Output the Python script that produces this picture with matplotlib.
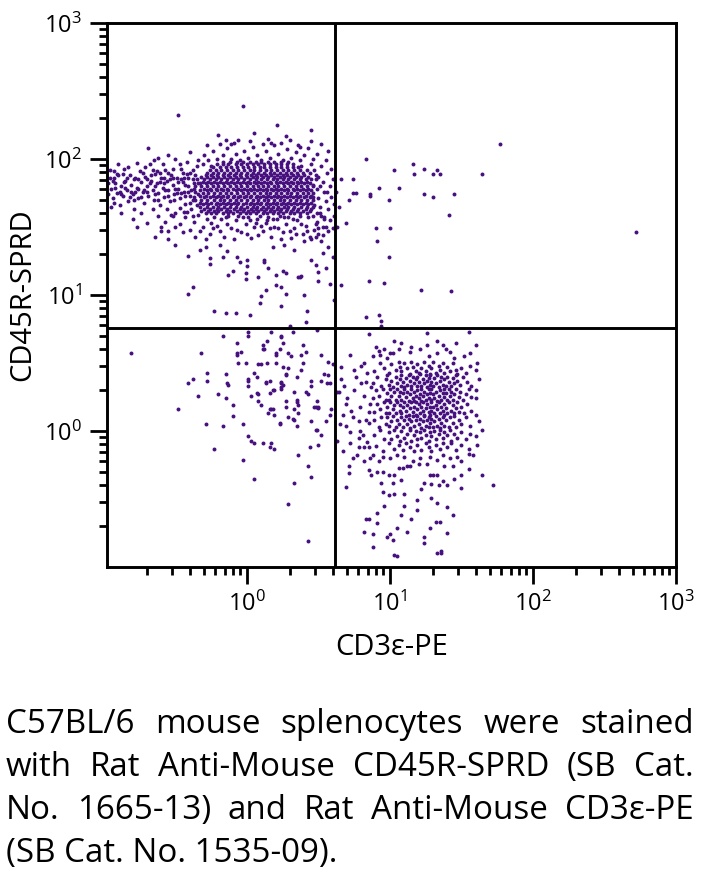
import numpy as np
import matplotlib
matplotlib.use("Agg")
import matplotlib.pyplot as plt
from matplotlib.ticker import FixedLocator, NullFormatter

# ---------------- data (log10 fluorescence, in hundredths of a decade) ----------------
X_LABEL = "CD3ε-PE"
Y_LABEL = "CD45R-SPRD"
TICK_VALUES = [1, 10, 100, 1000]
TICK_LABELS = [r"$\mathdefault{10^{0}}$", r"$\mathdefault{10^{1}}$",
               r"$\mathdefault{10^{2}}$", r"$\mathdefault{10^{3}}$"]
GATE_X = 4.12     # CD3e quadrant gate
GATE_Y = 5.72     # CD45R quadrant gate
CAPTION = [
    "C57BL/6 mouse splenocytes were stained",
    "with Rat Anti-Mouse CD45R-SPRD (SB Cat.",
    "No. 1665-13) and Rat Anti-Mouse CD3ε-PE",
    "(SB Cat. No. 1535-09).",
]

# B cells (CD45R+ CD3-) dense core, by row: y value and the x values on it
B_CORE_Y = [160, 162, 163, 165, 167, 168, 170, 172, 173, 175, 177, 178,
            180, 182, 183, 185, 187, 188, 190, 192, 194, 196, 198]
B_CORE_X = [
    [-29, -25, -22, -17, -13, -10, -5, -1, 2, 6, 11, 14, 18, 22, 25, 30, 33, 37, 42],
    [-32, -27, -23, -20, -15, -12, -7, -3, 1, 4, 8, 12, 16, 19, 23, 27, 31, 35, 39, 44],
    [-30, -26, -21, -18, -14, -9, -5, -2, 3, 6, 10, 13, 17, 21, 24, 28, 32, 36, 41, 45],
    [-33, -28, -24, -20, -16, -12, -8, -4, 0, 4, 7, 11, 15, 18, 22, 26, 29, 33, 38, 42, 46],
    [-31, -27, -22, -19, -15, -11, -7, -3, 2, 5, 9, 13, 16, 20, 24, 27, 31, 35, 39, 43],
    [-33, -29, -25, -21, -17, -13, -9, -6, -1, 3, 7, 10, 14, 18, 21, 25, 29, 33, 37, 41, 45],
    [-32, -28, -23, -19, -16, -12, -8, -4, 0, 4, 8, 12, 15, 19, 23, 26, 30, 34, 38, 42, 46],
    [-30, -26, -22, -18, -14, -10, -6, -2, 2, 6, 9, 13, 17, 21, 24, 28, 32, 36, 40, 44],
    [-33, -29, -24, -20, -17, -13, -9, -5, -1, 3, 7, 11, 15, 19, 22, 26, 30, 34, 37, 41, 45],
    [-31, -27, -23, -19, -15, -11, -7, -3, 1, 5, 9, 13, 16, 20, 24, 28, 31, 35, 39, 43, 46],
    [-33, -28, -25, -21, -17, -13, -8, -4, 0, 3, 7, 11, 14, 18, 22, 26, 29, 33, 37, 41, 45],
    [-30, -26, -22, -18, -14, -10, -6, -2, 2, 5, 9, 13, 17, 20, 24, 28, 32, 35, 39, 43],
    [-32, -28, -24, -20, -16, -12, -8, -4, 0, 4, 8, 11, 15, 19, 22, 26, 30, 34, 38, 42, 46],
    [-33, -29, -25, -21, -17, -13, -9, -5, -1, 2, 6, 10, 14, 17, 21, 25, 29, 32, 36, 40, 44],
    [-31, -27, -23, -19, -15, -11, -7, -3, 1, 5, 8, 12, 16, 20, 23, 27, 31, 35, 38, 42],
    [-30, -26, -22, -18, -14, -10, -6, -2, 2, 6, 10, 14, 18, 21, 25, 29, 33, 37, 41, 45],
    [-32, -28, -24, -20, -16, -12, -8, -4, 0, 4, 7, 11, 15, 19, 23, 26, 30, 34, 38, 43],
    [-29, -25, -21, -17, -13, -9, -5, -1, 3, 6, 10, 13, 17, 21, 25, 28, 32, 36, 40],
    [-28, -24, -20, -16, -12, -8, -4, 0, 4, 8, 12, 16, 19, 23, 27, 31, 35, 39, 44],
    [-26, -22, -18, -14, -10, -6, -2, 2, 5, 9, 13, 17, 21, 25, 29, 33, 37],
    [-24, -19, -15, -11, -7, -3, 1, 5, 9, 12, 16, 20, 24, 28, 32, 36],
    [-21, -17, -13, -8, -4, 0, 4, 8, 12, 16, 20, 24, 28, 32],
    [-17, -12, -7, -3, 2, 6, 10, 15, 19, 24, 29],
]

# B cells: surrounding events (x, y)
B_HALO = [
    (-96, 186), (-95, 178), (-94, 171), (-93, 191), (-92, 182), (-91, 175), (-90, 188), (-89, 166),
    (-88, 180), (-87, 173), (-86, 193), (-85, 184), (-84, 177), (-83, 169), (-82, 188), (-81, 181),
    (-80, 174), (-79, 163), (-78, 186), (-77, 179), (-76, 171), (-75, 191), (-74, 183), (-73, 176),
    (-72, 168), (-71, 187), (-70, 180), (-69, 173), (-68, 196), (-67, 184), (-66, 177), (-65, 170),
    (-64, 189), (-63, 182), (-62, 175), (-61, 166), (-60, 186), (-59, 179), (-58, 172), (-57, 192),
    (-56, 184), (-55, 177), (-54, 169), (-53, 188), (-52, 181), (-51, 174), (-50, 160), (-49, 186),
    (-48, 178), (-47, 171), (-46, 193), (-45, 183), (-44, 176), (-43, 167), (-42, 189), (-41, 180),
    (-40, 173), (-39, 163), (-38, 185), (-37, 178), (-36, 170), (-35, 195), (-34, 182), (-34, 174),
    (-92, 179), (-86, 183), (-81, 176), (-76, 185), (-72, 177), (-68, 182), (-64, 174), (-61, 183),
    (-57, 177), (-54, 185), (-51, 170), (-48, 183), (-46, 175), (-43, 181), (-41, 186), (-39, 177),
    (-37, 182), (-36, 188), (-35, 166), (-38, 192), (-45, 190), (-52, 193), (-58, 186), (-63, 191),
    (-70, 185), (-78, 176), (-84, 186), (-89, 176), (-97, 182), (-66, 163), (-56, 163), (-47, 164),
    (-40, 168), (-36, 176), (-44, 161), (-53, 159), (-62, 158), (-74, 160), (-88, 160), (-80, 156),
    (-70, 153), (-60, 150), (-95, 165), (-77, 197), (-65, 199), (-50, 200), (-42, 198), (-90, 196),
    (-97, 174), (-94, 184), (-91, 189), (-88, 174), (-85, 179), (-82, 172), (-79, 185), (-76, 178),
    (-73, 190), (-70, 176), (-67, 188), (-64, 180), (-61, 190), (-58, 182), (-55, 173), (-52, 186),
    (-49, 175), (-46, 185), (-43, 173), (-40, 190), (-37, 172), (-35, 185), (-96, 192), (-93, 168),
    (-87, 189), (-83, 194), (-79, 170), (-74, 172), (-71, 194), (-66, 192), (-62, 170), (-59, 196),
    (-55, 190), (-50, 178), (-47, 196), (-44, 186), (-41, 176), (-38, 170), (-36, 180), (-93, 186),
    # above the core
    (-34, 199), (-30, 203), (-27, 199), (-24, 206), (-21, 200), (-17, 203), (-14, 208), (-11, 200),
    (-8, 204), (-5, 199), (-2, 206), (1, 201), (4, 209), (7, 203), (10, 199), (13, 206), (16, 201),
    (19, 210), (22, 204), (25, 199), (28, 207), (31, 201), (34, 205), (37, 199), (40, 203), (43, 208),
    (46, 200), (49, 204), (-28, 210), (-19, 211), (-9, 212), (2, 213), (11, 211), (24, 212), (36, 210),
    (45, 213), (-31, 196), (-25, 195), (38, 195), (42, 192), (45, 196), (48, 188), (-6, 214), (15, 215),
    (30, 214), (-3, 239), (-48, 232), (21, 225), (27, 217), (45, 221), (17, 212), (-15, 214),
    (-11, 211), (-69, 208), (57, 206), (37, 209), (-40, 205), (-55, 203), (-62, 201), (-20, 218),
    (5, 219), (52, 211),
    # right edge of the core
    (47, 192), (48, 185), (49, 178), (50, 171), (51, 165), (52, 158), (47, 166), (49, 160), (53, 183),
    (54, 176), (55, 169), (56, 190), (57, 163), (58, 180), (59, 172), (60, 185), (61, 167), (62, 176),
    (48, 152), (53, 150), (58, 155), (46, 172), (46, 181), (50, 187), (52, 195), (55, 199), (59, 193),
    (61, 158), (57, 147), (50, 145), (54, 156), (60, 149), (56, 176), (51, 180),
    # below the core
    (-52, 158), (-47, 152), (-43, 157), (-40, 148), (-37, 154), (-34, 159), (-31, 150), (-28, 156),
    (-26, 145), (-23, 157), (-21, 151), (-18, 156), (-16, 143), (-13, 158), (-11, 149), (-8, 155),
    (-6, 158), (-4, 146), (-1, 152), (1, 157), (3, 142), (5, 150), (7, 156), (9, 158), (11, 147),
    (13, 153), (15, 157), (17, 143), (19, 150), (21, 156), (23, 158), (25, 146), (27, 152), (29, 157),
    (31, 142), (33, 149), (35, 155), (37, 158), (39, 145), (41, 151), (43, 157), (45, 141), (47, 148),
    (49, 154), (51, 160), (53, 144), (55, 150), (-45, 146), (-36, 143), (-29, 141), (-19, 147),
    (-9, 141), (0, 145), (8, 144), (16, 149), (24, 141), (32, 156), (40, 140), (48, 143), (-25, 153),
    (-14, 152), (-3, 157), (6, 153), (14, 155), (22, 149), (30, 147), (38, 152), (46, 158), (54, 157),
    (-50, 150), (-42, 161), (-33, 147), (-24, 149), (-15, 157), (-7, 148), (2, 155), (10, 151),
    (18, 156), (26, 157), (34, 145), (42, 147), (50, 149), (-38, 158), (-57, 154), (-60, 147),
    (-64, 143), (-55, 141),
]

# B cells: dim tail down towards the gate
B_TAIL = [
    (-38, 106), (-41, 101), (-23, 88), (-15, 87), (-8, 87), (2, 85), (9, 94), (10, 99), (13, 104),
    (24, 106), (27, 101), (24, 92), (40, 100), (42, 88), (41, 80), (30, 77), (20, 107), (37, 113),
    (50, 110), (50, 117), (48, 122), (45, 126), (-13, 115), (-10, 118), (-1, 116), (-1, 112), (8, 113),
    (15, 120), (20, 115), (25, 118), (36, 113), (38, 114), (27, 116), (0, 121), (-5, 124), (-17, 128),
    (-26, 127), (-26, 123), (-33, 133), (-41, 129), (-50, 137), (-77, 150), (-55, 147), (-7, 128),
    (12, 126), (12, 124), (18, 135), (26, 137), (33, 133), (44, 143), (52, 140), (0, 126), (-14, 132),
    (-19, 137), (-29, 135), (57, 135), (60, 128), (55, 120), (58, 108), (61, 96), (53, 131),
]

# T cells (CD3+ CD45R-) core events (x, y)
T_CORE = [
    (89, 44), (93, 50), (96, 46), (99, 43), (101, 49), (104, 45), (106, 51), (107, 47), (108, 44),
    (110, 50), (112, 46), (114, 42), (115, 51), (116, 47), (118, 44), (119, 49), (120, 43), (122, 46),
    (124, 51), (125, 44), (127, 48), (128, 42), (129, 46), (130, 51), (132, 43), (134, 48), (135, 45),
    (137, 50), (138, 43), (140, 47), (142, 44), (144, 50), (146, 45), (147, 42), (150, 46), (153, 43),
    (156, 48),
    (88, 35), (91, 40), (94, 33), (97, 38), (98, 41), (99, 34), (101, 37), (102, 32), (104, 40),
    (105, 35), (107, 38), (108, 33), (108, 41), (109, 36), (110, 32), (111, 39), (112, 34), (113, 41),
    (114, 37), (115, 33), (116, 40), (117, 35), (118, 38), (119, 33), (119, 40), (120, 36), (121, 42),
    (122, 33), (123, 38), (124, 35), (125, 41), (126, 32), (126, 37), (127, 39), (128, 34), (128, 41),
    (129, 36), (130, 33), (131, 39), (132, 35), (133, 41), (134, 32), (135, 37), (136, 40), (137, 34),
    (138, 38), (139, 33), (140, 40), (141, 36), (143, 33), (144, 39), (145, 35), (146, 41), (147, 37),
    (149, 34), (151, 40), (154, 36), (157, 33),
    (88, 24), (90, 30), (92, 26), (95, 31), (97, 23), (98, 28), (99, 23), (100, 31), (101, 26),
    (103, 29), (104, 23), (105, 31), (106, 26), (107, 29), (108, 23), (109, 28), (110, 31), (111, 25),
    (112, 29), (113, 22), (114, 27), (115, 31), (116, 24), (117, 29), (118, 26), (117, 22), (119, 30),
    (120, 24), (121, 27), (122, 22), (122, 31), (123, 26), (124, 29), (125, 23), (126, 27), (127, 31),
    (127, 24), (128, 28), (129, 23), (129, 31), (130, 27), (131, 24), (132, 29), (133, 22), (134, 26),
    (135, 30), (136, 23), (137, 28), (138, 25), (138, 31), (139, 28), (140, 23), (141, 31), (142, 26),
    (143, 29), (144, 23), (145, 27), (146, 31), (148, 25), (149, 29), (151, 23), (153, 27), (155, 31),
    (157, 25),
    (89, 14), (91, 20), (93, 16), (96, 21), (97, 13), (98, 18), (99, 13), (100, 21), (102, 16),
    (103, 19), (104, 13), (105, 21), (107, 15), (107, 19), (108, 13), (109, 18), (110, 21), (111, 15),
    (112, 19), (113, 12), (114, 17), (115, 21), (116, 14), (117, 18), (118, 12), (118, 21), (119, 16),
    (120, 20), (121, 13), (122, 18), (123, 15), (123, 21), (124, 12), (125, 17), (126, 20), (127, 14),
    (128, 18), (128, 12), (129, 15), (129, 21), (130, 18), (131, 13), (132, 19), (133, 16), (134, 21),
    (135, 13), (136, 18), (137, 15), (138, 20), (138, 12), (139, 17), (140, 13), (141, 21), (143, 15),
    (144, 19), (145, 13), (146, 17), (147, 21), (148, 14), (150, 18), (152, 13), (154, 20), (157, 15),
    (89, 8), (92, 3), (94, 10), (97, 5), (98, 10), (99, 4), (101, 7), (102, 11), (104, 3), (105, 8),
    (106, 5), (108, 10), (109, 3), (110, 8), (111, 11), (112, 5), (113, 9), (114, 2), (115, 7),
    (116, 11), (117, 4), (118, 8), (119, 11), (120, 5), (121, 9), (122, 2), (123, 7), (124, 11),
    (125, 4), (126, 8), (127, 3), (127, 10), (128, 6), (129, 9), (130, 3), (131, 7), (132, 11),
    (133, 4), (134, 9), (135, 2), (136, 6), (137, 10), (138, 4), (139, 8), (141, 3), (142, 10),
    (144, 6), (145, 11), (146, 3), (148, 8), (150, 5), (153, 10), (156, 4),
    (89, -3), (93, 1), (96, -6), (99, -1), (101, -6), (103, 1), (105, -4), (107, -7), (108, 0),
    (110, -5), (112, -2), (114, 1), (115, -7), (117, -3), (118, 0), (119, -6), (121, -1), (122, -5),
    (124, 1), (125, -3), (127, -7), (128, -1), (129, -4), (131, 0), (132, -6), (134, -2), (135, 1),
    (137, -5), (138, -1), (140, -3), (142, 1), (143, -7), (145, -2), (147, -5), (150, -1), (153, -6),
    (156, -2),
    (90, -11), (95, -15), (99, -9), (103, -13), (106, -10), (109, -14), (111, -9), (114, -12),
    (117, -15), (119, -10), (122, -14), (125, -9), (127, -12), (129, -15), (132, -10), (135, -13),
    (137, -9), (140, -12), (143, -9), (146, -14), (150, -10), (155, -13),
]

T_HALO = [
    (85, 71), (126, 72), (155, 73), (90, 62), (103, 66), (108, 65), (126, 63), (133, 66), (137, 63),
    (146, 65), (160, 63), (114, 58), (121, 60), (139, 60), (72, 56), (102, 57), (133, 57), (156, 57),
    (88, 55), (93, 56), (98, 54), (66, 47), (75, 45), (161, 50), (162, 38), (160, 24), (162, 7),
    (164, 1), (160, -4), (158, -18), (164, -32), (172, -40), (150, -42), (84, 43), (83, 36), (80, 35),
    (64, 29), (70, 24), (69, 20), (67, 12), (74, 10), (69, 4), (78, 7), (83, 8), (85, 6), (72, -1),
    (78, -5), (81, -3), (72, -9), (78, -12), (82, -12), (85, -12), (67, -15), (88, -18), (71, -26),
    (71, -31), (69, -41), (85, -29), (87, -32), (91, -30), (95, -30), (99, -32), (103, -32), (106, -27),
    (109, -27), (112, -26), (108, -36), (102, -38), (94, -38), (95, -45), (99, -47), (103, -46),
    (110, -46), (119, -51), (122, -43), (124, -38), (128, -32), (130, -32), (133, -32), (129, -39),
    (134, -40), (137, -37), (140, -40), (129, -49), (133, -53), (140, -56), (144, -62), (114, -26),
    (120, -24), (126, -24), (133, -21), (138, -26), (144, -26), (147, -19), (150, -22), (155, -17),
    (142, -20), (137, -18), (128, -19), (121, -20), (116, -22), (110, -19), (105, -18), (100, -20),
    (95, -19), (92, -22), (145, 54), (86, 20), (87, 32), (96, 60), (127, 55), (63, 29), (63, -7),
    (66, 38), (75, 30), (79, 18), (82, 26), (76, 40), (80, 48), (85, 14), (68, 33), (73, 15), (79, 0),
    (84, -8), (77, -18), (82, -22), (86, -20), (65, 5), (74, -20), (160, 30), (160, 12), (161, -10),
    (155, -28), (150, -32), (145, -35), (160, 45), (152, 55), (142, 58), (115, 62), (106, 60),
    (100, 57), (92, 59), (82, 50),
]

T_TAIL = [
    (91, -60), (83, -65), (85, -65), (91, -68), (82, -74), (88, -76), (98, -78), (100, -76),
    (102, -80), (105, -71), (112, -74), (103, -91), (105, -92), (124, -78), (124, -82), (128, -71),
    (132, -67), (135, -67), (140, -75), (136, -88), (133, -90), (136, -90), (119, -58), (110, -55),
    (96, -55), (88, -85), (115, -65), (108, -62),
]

# double negative events (lower left)
DN = [
    (-81, 57), (-32, 57), (-17, 70), (1, 73), (1, 70), (17, 73), (32, 73), (24, 70), (24, 69), (11, 63),
    (14, 66), (25, 65), (39, 63), (49, 74), (-7, 65), (-4, 58), (-7, 57), (-7, 56), (11, 60), (12, 60),
    (20, 57), (20, 56), (23, 60), (31, 55), (29, 57), (38, 56), (41, 58), (52, 56), (-6, 50), (-1, 50),
    (8, 49), (10, 49), (14, 50), (20, 50), (25, 47), (29, 46), (27, 42), (27, 41), (39, 50), (38, 45),
    (35, 40), (57, 51), (60, 49), (54, 42), (57, 41), (52, 37), (58, 35), (56, 35), (-28, 43), (-28, 37),
    (-15, 42), (-14, 35), (-13, 34), (-38, 38), (-41, 35), (-34, 26), (-20, 27), (-15, 24), (-10, 19),
    (-10, 11), (-48, 16), (-29, 5), (-17, 4), (-3, 5), (1, 37), (1, 38), (1, 33), (5, 43), (7, 40),
    (7, 28), (8, 27), (3, 26), (8, 22), (10, 19), (13, 36), (13, 35), (16, 37), (16, 28), (18, 30),
    (19, 30), (17, 16), (16, 16), (18, 16), (15, 13), (19, 12), (24, 35), (25, 34), (24, 32), (24, 31),
    (24, 36), (27, 22), (27, 18), (33, 29), (35, 23), (35, 21), (33, 16), (36, 19), (36, 13), (32, 9),
    (33, 8), (35, 4), (23, 6), (23, 5), (29, 10), (41, 29), (43, 27), (45, 33), (45, 37), (49, 22),
    (48, 18), (47, 18), (50, 18), (50, 17), (45, 7), (48, 1), (49, 1), (52, -3), (59, 16), (58, 12),
    (55, 7), (1, -4), (3, -7), (5, -9), (11, -9), (16, -12), (19, -13), (17, -9), (44, -12), (50, -10),
    (-23, -13), (-3, -21), (36, -18), (43, -26), (45, -34), (5, -35), (33, -38), (29, -54), (43, -81),
]

# double positive events (upper right)
DP = [
    (177, 211), (83, 200), (103, 192), (116, 196), (124, 193), (133, 192), (117, 189), (130, 189),
    (135, 189), (164, 189), (66, 185), (74, 185), (92, 179), (106, 179), (74, 175), (76, 175),
    (86, 174), (86, 173), (71, 170), (99, 170), (124, 174), (130, 172), (145, 174), (64, 165),
    (141, 159), (69, 153), (63, 150), (90, 149), (100, 149), (91, 140), (99, 128), (272, 146),
    (66, 107), (85, 110), (96, 109), (122, 104), (143, 103), (83, 84), (92, 85), (94, 81), (94, 77),
]

# ---------------- assemble events ----------------
lx, ly = [], []
for yv, row in zip(B_CORE_Y, B_CORE_X):
    lx += row
    ly += [yv] * len(row)
for pop in (B_HALO, B_TAIL, T_CORE, T_HALO, T_TAIL, DN, DP):
    lx += [p[0] for p in pop]
    ly += [p[1] for p in pop]
x = 10 ** (np.array(lx) / 100.0)
y = 10 ** (np.array(ly) / 100.0)

# ---------------- figure ----------------
W, H = 703, 876
plt.rcParams["font.family"] = ["Open Sans", "DejaVu Sans"]
plt.rcParams["mathtext.fontset"] = "custom"
plt.rcParams["mathtext.rm"] = "Open Sans"
fig = plt.figure(figsize=(W / 100, H / 100), dpi=100)
fig.patch.set_facecolor("white")

L, R, T, B = 107, 676, 23, 567
ax = fig.add_axes([L / W, (H - B) / H, (R - L) / W, (B - T) / H])
ax.set_xscale("log")
ax.set_yscale("log")
ax.set_xlim(0.105, 1000)
ax.set_ylim(0.1, 1000)

ax.scatter(x, y, s=8, c="#46107f", linewidths=0, zorder=2)
ax.axvline(GATE_X, color="black", lw=2.1, zorder=3)
ax.axhline(GATE_Y, color="black", lw=2.1, zorder=3)

for sp in ax.spines.values():
    sp.set_linewidth(2.1)
for axis in (ax.xaxis, ax.yaxis):
    axis.set_major_locator(FixedLocator(TICK_VALUES))
    axis.set_minor_locator(FixedLocator([m * 10.0 ** e for e in range(-1, 3) for m in range(2, 10)]))
    axis.set_minor_formatter(NullFormatter())
ax.set_xticklabels(TICK_LABELS)
ax.set_yticklabels(TICK_LABELS)
ax.tick_params(which="major", length=12, width=2.0, direction="out", labelsize=17, pad=6)
ax.tick_params(which="minor", length=5.5, width=2.0, direction="out")

ax.set_xlabel(X_LABEL, fontsize=21)
ax.set_ylabel(Y_LABEL, fontsize=21)
# x label: top edge near y=635 px; y label: right edge near x=37 px
ax.xaxis.set_label_coords(0.5, (567 - 633) / 544)
ax.yaxis.set_label_coords((37 - 107) / 569, 0.5)

# ---------------- caption (justified) ----------------
fig.canvas.draw()
rend = fig.canvas.get_renderer()

def width_px(s, size):
    t = fig.text(0, 0, s, fontsize=size)
    w = t.get_window_extent(rend).width
    t.remove()
    return w

cap_size = 21.0
cap_size = cap_size * 332.0 / width_px(CAPTION[-1], cap_size)
left_px, right_px = 6, 694
baselines = [733, 776, 819, 862]
for i, line in enumerate(CAPTION):
    yb = 1 - baselines[i] / H
    if i == len(CAPTION) - 1:
        fig.text(left_px / W, yb, line, fontsize=cap_size, va="baseline", ha="left")
        continue
    words = line.split(" ")
    ws = [width_px(w_, cap_size) for w_ in words]
    gap = (right_px - left_px - sum(ws)) / (len(words) - 1)
    xp = left_px
    for w_, wd in zip(words, ws):
        fig.text(xp / W, yb, w_, fontsize=cap_size, va="baseline", ha="left")
        xp += wd + gap

fig.savefig("out.png", dpi=100, facecolor="white")
